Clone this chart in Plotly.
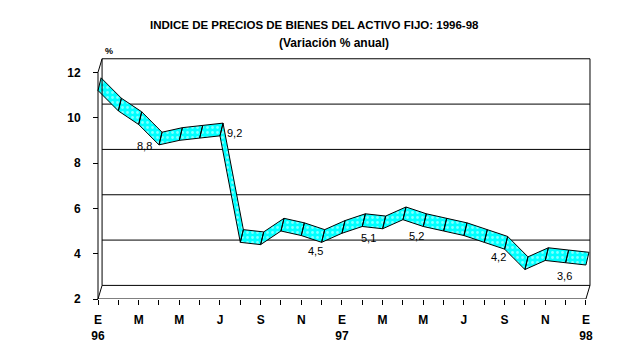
import plotly.graph_objects as go

# ---- data ----
months = ["E", "F", "M", "A", "M", "J", "J", "A", "S", "O", "N", "D",
          "E", "F", "M", "A", "M", "J", "J", "A", "S", "O", "N", "D", "E"]
years = {0: "96", 12: "97", 24: "98"}
values = [11.2, 10.3, 9.7, 8.8, 9.0, 9.1, 9.2, 4.5, 4.4, 5.0, 4.8, 4.5,
          4.9, 5.2, 5.1, 5.5, 5.2, 5.0, 4.8, 4.5, 4.2, 3.3, 3.7, 3.6, 3.5]
label_idx = [3, 6, 11, 14, 16, 20, 23]
y_ticks = [2, 4, 6, 8, 10, 12]

# label offsets in px (style)
label_shift = {3: (-14, -1), 6: (15, 3), 11: (-6, -9), 14: (-14, -9),
               16: (-7, -10), 20: (-6, -8), 23: (-1, -13)}

# ---- geometry ----
OFF = 8                       # page body margin
W, H = 634 - OFF, 355 - OFF
ML, MR, MT, MB = 72, 30, 42, 49
PW, PH = W - ML - MR, H - MT - MB
PX_X = 20.33
PX_Y = 23.3
x0_px = 98 - OFF
xmin = -(x0_px - ML) / PX_X
xmax = xmin + PW / PX_X
ymin = 2
ymax = ymin + PH / PX_Y
DXW, DVW = 0.2, 0.6
DXR, DVR = 0.15, 0.56
n = len(values)
xs = list(range(n))

fig = go.Figure()

rx, ry = [], []
for i in range(n - 1):
    a, b = values[i], values[i + 1]
    rx += [i, i + 1, i + 1 + DXR, i + DXR, i, None]
    ry += [a, b, b + DVR, a + DVR, a, None]
fig.add_trace(go.Scatter(
    x=rx, y=ry, mode="lines", fill="toself",
    line=dict(color="black", width=1),
    fillcolor="#00FFFF",
    fillpattern=dict(shape=".", bgcolor="#00FFFF", fgcolor="white",
                     size=5, solidity=0.25),
    hoverinfo="skip", showlegend=False))

shapes = []
L = dict(color="black", width=1)
last = n - 1
for v in y_ticks:
    shapes.append(dict(type="line", x0=DXW, x1=last + DXW, y0=v + DVW, y1=v + DVW, line=L, layer="below"))
shapes += [
    dict(type="line", x0=DXW, x1=DXW, y0=y_ticks[0] + DVW, y1=y_ticks[-1] + DVW, line=L),
    dict(type="line", x0=0, x1=DXW, y0=y_ticks[-1], y1=y_ticks[-1] + DVW, line=L),
    dict(type="line", x0=0, x1=DXW, y0=y_ticks[0], y1=y_ticks[0] + DVW, line=L),
    dict(type="line", x0=last + DXW, x1=last + DXW, y0=y_ticks[0] + DVW, y1=y_ticks[-1] + DVW, line=L),
    dict(type="line", x0=last, x1=last + DXW, y0=y_ticks[0], y1=y_ticks[0] + DVW, line=L),
    dict(type="line", x0=0, x1=0, y0=y_ticks[0], y1=y_ticks[-1], line=L),
    dict(type="line", x0=0, x1=last, y0=y_ticks[0], y1=y_ticks[0], line=L),
]

ticktext = []
for i, m in enumerate(months):
    if i % 2 == 0:
        ticktext.append(m + ("<br>" + years[i] if i in years else ""))
    else:
        ticktext.append("")

def px_to_paper(px, py):
    return (px - OFF - ML) / PW, (H - MB - (py - OFF)) / PH

FONT = "Liberation Sans, Arial"
ann = []
tx, ty = px_to_paper(314.5, 16)
ann.append(dict(text="<b>INDICE DE PRECIOS DE BIENES DEL ACTIVO FIJO: 1996-98</b>",
                x=tx, y=ty, xref="paper", yref="paper", showarrow=False,
                font=dict(family=FONT, size=11.5, color="black")))
tx, ty = px_to_paper(334, 34)
ann.append(dict(text="<b>(Variación % anual)</b>",
                x=tx, y=ty, xref="paper", yref="paper", showarrow=False,
                font=dict(family=FONT, size=12, color="black")))
ann.append(dict(text="<b>%</b>", x=DXW + 0.05, y=y_ticks[-1] + DVW + 0.05, xref="x", yref="y",
                xanchor="left", yanchor="bottom", showarrow=False,
                font=dict(family=FONT, size=9, color="black")))
for i in label_idx:
    sx, sy = label_shift[i]
    ann.append(dict(text=f"{values[i]:.1f}".replace(".", ","), x=xs[i], y=values[i],
                    xref="x", yref="y", showarrow=False, xshift=sx, yshift=sy,
                    font=dict(family=FONT, size=11, color="black")))

fig.update_layout(
    width=W, height=H,
    margin=dict(l=ML, r=MR, t=MT, b=MB),
    paper_bgcolor="white", plot_bgcolor="white",
    shapes=shapes, annotations=ann,
    xaxis=dict(range=[xmin, xmax], tickvals=xs, ticktext=ticktext,
               showgrid=False, zeroline=False, showline=False,
               ticks="outside", ticklen=5, tickcolor="black",
               ticklabelstandoff=5,
               tickfont=dict(family=FONT, size=12, color="black", weight="bold")),
    yaxis=dict(range=[ymin, ymax], tickvals=y_ticks, showgrid=False, zeroline=False,
               showline=False, ticks="outside", ticklen=5, tickcolor="black",
               anchor="free", position=(x0_px - ML) / PW,
               ticklabelstandoff=10,
               tickfont=dict(family=FONT, size=12, color="black", weight="bold")),
)

fig.write_html("out.html")
